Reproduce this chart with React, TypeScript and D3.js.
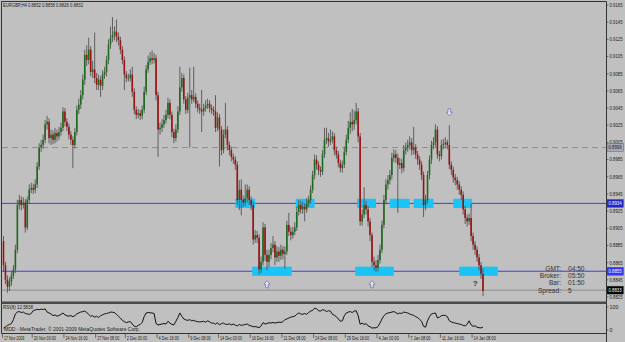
import React from 'react';
import * as d3 from 'd3';

// prices in pips (x 0.0001)
const opens = [8890,
8862,8845,8837,8843,8850,8857,8880,8932,8938,8932,
8935,8906,8938,8950,8952,8950,8956,8977,8999,9002,
9008,9026,9029,9010,9014,9008,9016,9012,9017,9022,
9041,9029,9023,9014,9008,9002,9017,9043,9049,9060,
9078,9107,9101,9113,9087,9090,9080,9072,9078,9071,
9084,9087,9101,9119,9127,9130,9134,9128,9124,9113,
9101,9084,9080,9080,9084,9064,9043,9037,9039,9036,
9043,9064,9090,9099,9103,9101,9103,9060,9020,9022,
9026,9031,9037,9051,9037,9017,9010,9020,9041,9069,
9080,9055,9043,9057,9060,9055,9058,9050,9045,9043,
9041,9045,9048,9050,9045,9043,9041,9022,9034,9020,
8996,9014,9020,9002,8996,8988,8985,8979,8938,8950,
8938,8935,8940,8950,8938,8932,8892,8897,8894,8857,
8866,8906,8874,8866,8874,8882,8886,8871,8878,8873,
8880,8875,8878,8909,8901,8897,8901,8906,8924,8932,
8927,8930,8927,8934,8938,8950,8967,8985,8979,8973,
8971,8991,9008,9010,9006,9008,9012,8996,8991,8981,
8975,8979,8994,9008,9022,9029,9026,9031,9041,9012,
8913,8921,8932,8927,8913,8897,8866,8862,8859,8868,
8880,8909,8938,8956,8961,8967,8987,8991,8987,8979,
8981,8975,8996,8999,9002,9005,8996,8999,8991,8985,
8979,8967,8932,8938,8967,8985,9002,9005,9020,8991,
8989,9002,9003,9005,9002,8979,8973,8964,8961,8956,
8950,8944,8927,8917,8913,8917,8896,8886,8880,8871,
8862,8852];

const closes = [
8862,8845,8837,8843,8850,8857,8880,8932,8938,8932,
8935,8906,8938,8950,8952,8950,8956,8977,8999,9002,
9008,9026,9029,9010,9014,9008,9016,9012,9017,9022,
9041,9029,9023,9014,9008,9002,9017,9043,9049,9060,
9078,9107,9101,9113,9087,9090,9080,9072,9078,9071,
9084,9087,9101,9119,9127,9130,9134,9128,9124,9113,
9101,9084,9080,9080,9084,9064,9043,9037,9039,9036,
9043,9064,9090,9099,9103,9101,9103,9060,9020,9022,
9026,9031,9037,9051,9037,9017,9010,9020,9041,9069,
9080,9055,9043,9057,9060,9055,9058,9050,9045,9043,
9041,9045,9048,9050,9045,9043,9041,9022,9034,9020,
8996,9014,9020,9002,8996,8988,8985,8979,8938,8950,
8938,8935,8940,8950,8938,8932,8892,8897,8894,8857,
8866,8906,8874,8866,8874,8882,8886,8871,8878,8873,
8880,8875,8878,8909,8901,8897,8901,8906,8924,8932,
8927,8930,8927,8934,8938,8950,8967,8985,8979,8973,
8971,8991,9008,9010,9006,9008,9012,8996,8991,8981,
8975,8979,8994,9008,9022,9029,9026,9031,9041,9012,
8913,8921,8932,8927,8913,8897,8866,8862,8859,8868,
8880,8909,8938,8956,8961,8967,8987,8991,8987,8979,
8981,8975,8996,8999,9002,9005,8996,8999,8991,8985,
8979,8967,8932,8938,8967,8985,9002,9005,9020,8991,
8989,9002,9003,9005,9002,8979,8973,8964,8961,8956,
8950,8944,8927,8917,8913,8917,8896,8886,8880,8871,
8862,8852,8832];

const highs = [
8896,8866,8850,8848,8855,8862,8886,8938,8944,8942,
8941,8939,8942,8956,8958,8957,8962,8982,9004,9008,
9014,9031,9036,9033,9020,9019,9022,9020,9023,9028,
9046,9045,9033,9027,9018,9012,9022,9048,9056,9066,
9084,9113,9118,9127,9117,9100,9133,9086,9084,9082,
9089,9093,9106,9125,9140,9151,9140,9148,9133,9128,
9117,9105,9088,9085,9090,9093,9068,9047,9044,9043,
9048,9070,9095,9106,9110,9112,9109,9107,9064,9028,
9032,9037,9043,9057,9055,9041,9021,9026,9047,9093,
9086,9084,9059,9063,9092,9066,9093,9062,9054,9050,
9066,9050,9054,9056,9054,9049,9047,9060,9040,9038,
9024,9020,9051,9024,9006,9000,8992,8989,8983,8961,
8962,8943,8956,8956,8954,8942,8936,8903,8902,8898,
8872,8912,8910,8880,8880,8888,8896,8890,8884,8883,
8886,8884,8884,8914,8923,8906,8907,8912,8930,8938,
8937,8936,8934,8940,8943,8955,8972,8991,8990,8983,
8977,8996,9022,9022,9016,9020,9018,9016,9000,8995,
8985,8984,9000,9014,9030,9040,9044,9042,9051,9045,
9016,8927,8953,8937,8931,8917,8900,8872,8868,8874,
8886,8914,8944,8962,8967,8973,8993,8997,8996,8992,
8987,8986,9002,9005,9008,9012,9010,9023,9003,8995,
8989,8983,8971,8944,8972,8990,9007,9011,9026,9024,
8995,9008,9009,9011,9008,9025,8983,8977,8968,8965,
8960,8954,8948,8931,8921,8922,8934,8900,8890,8884,
8875,8866,8858];

const lows = [
8855,8840,8830,8832,8838,8846,8853,8876,8927,8926,
8928,8900,8903,8934,8946,8945,8946,8952,8973,8994,
8998,9004,9020,9004,9002,9003,9004,9006,9008,9013,
9018,9024,9018,9009,9002,8975,8998,9013,9038,9044,
9055,9072,9094,9096,9082,9080,9074,9066,9066,9058,
9066,9079,9082,9096,9114,9122,9124,9122,9118,9108,
9096,9066,9075,9076,9076,9058,9038,9032,9033,9031,
9032,9039,9060,9086,9095,9096,9097,9054,8988,9014,
9017,9022,9027,9033,9032,9011,9004,9006,9016,9037,
9064,9050,9038,9039,8999,9050,9052,9045,9040,9038,
9017,9036,9041,9044,9040,9038,9036,9017,9018,8977,
8990,8992,9010,8996,8990,8983,8980,8973,8932,8926,
8920,8930,8931,8935,8932,8926,8886,8888,8888,8851,
8853,8862,8867,8856,8860,8869,8877,8862,8866,8866,
8868,8869,8858,8874,8896,8891,8893,8897,8902,8920,
8922,8922,8913,8923,8930,8934,8946,8962,8973,8967,
8965,8967,8987,9003,9000,9002,9004,8990,8986,8976,
8970,8970,8975,8990,9004,9015,9018,9020,9026,9005,
8908,8908,8917,8921,8907,8890,8860,8856,8854,8855,
8864,8876,8905,8933,8950,8956,8962,8982,8981,8923,
8974,8969,8971,8991,8994,8997,8990,8991,8986,8979,
8973,8961,8918,8926,8934,8962,8980,8997,9000,8986,
8983,8985,8997,8999,8997,8974,8967,8958,8955,8950,
8944,8938,8921,8910,8907,8909,8890,8880,8874,8866,
8856,8846,8826];

const rsiValues = [
8,13,20,24,28,45,70,78,80,76,
78,72,70,68,72,84,87,90,88,91,
89,92,78,74,70,62,66,60,63,68,
74,66,62,60,63,58,62,70,74,78,
80,82,76,68,60,62,56,60,54,62,
66,70,72,74,78,77,76,68,60,52,
42,36,32,35,37,26,16,14,20,24,
33,58,74,76,75,74,72,28,22,24,
26,28,26,38,30,24,22,38,54,74,
60,48,44,42,45,40,42,38,36,35,
36,38,34,40,36,30,30,25,32,22,
28,30,25,24,27,22,26,21,18,24,
20,22,24,26,20,18,14,15,13,10,
18,32,26,28,32,30,33,30,32,34,
33,36,45,48,52,56,58,60,68,74,
70,68,72,68,76,82,85,95,92,84,
82,88,86,80,84,82,68,64,58,48,
38,40,62,74,78,80,76,82,84,62,
25,30,24,28,18,14,8,10,9,15,
30,48,62,70,74,75,78,80,76,70,
74,72,78,76,74,70,66,64,58,54,
46,38,16,12,40,58,70,72,74,52,
56,62,64,63,58,40,35,32,30,28,
26,24,20,18,25,40,22,16,18,12,
10,9,12.6];

const priceTickLabels = ["0.9165","0.9145","0.9125","0.9105","0.9085","0.9065","0.9045","0.9025","0.9005","0.8985","0.8965","0.8945","0.8925","0.8905","0.8885","0.8865","0.8845","0.8825"];
const dateLabels = ["17 Nov 2009","20 Nov 00:00","24 Nov 16:00","27 Nov 08:00","2 Dec 00:00","4 Dec 16:00","9 Dec 08:00","14 Dec 00:00","16 Dec 16:00","21 Dec 08:00","24 Dec 08:00","29 Dec 16:00","4 Jan 00:00","7 Jan 08:00","11 Jan 16:00","14 Jan 08:00"];
const dateBars = [0,15,31,47,62,78,94,109,125,141,157,173,189,205,221,237];

const upperLevel = 0.8934;
const lowerLevel = 0.8855;
const dashedLevel = 0.8999;
const bidLevel = 0.8833;

const upperBoxes = [[117,127],[147.5,157],[178.5,188],[195,205],[207,217],[227,236.5]];
const lowerBoxes = [[125.5,145.5],[177.5,197],[230,249.5]];
const upArrowBars = [133, 186];
const downArrowBars = [225];
const questionBar = 238;

const headerText = "EURGBP,H4  0.8852 0.8858 0.8826 0.8832";
const rsiLabel = "RSI(8) 12.5838";
const copyright = "MDD - MetaTrader, \u00a9 2001-2009 MetaQuotes Software Corp.";
const infoLabels = ["GMT:", "Broker:", "Bar:", "Spread:"];
const infoValues = ["04:50", "05:50", "01:50", "5"];

const FONT = "'Liberation Sans', Arial, sans-serif";

export default function App() {
  const W = 625, H = 342;
  const n = Math.min(opens.length, closes.length, highs.length, lows.length);
  const x = d3.scaleLinear().domain([0, 242]).range([3.5, 483]);
  const y = d3.scaleLinear().domain([0.8825, 0.9165]).range([297, 5]);
  const yr = d3.scaleLinear().domain([0, 100]).range([330, 307]);
  const p = (v: number) => v / 10000;

  const rsiLine = d3.line<number>().x((_, i) => x(i)).y(d => yr(d))(rsiValues) || '';

  const candles = [];
  for (let i = 0; i < n; i++) {
    const o = p(opens[i]), c = p(closes[i]);
    const h = Math.max(p(highs[i]), o, c), l = Math.min(p(lows[i]), o, c);
    const cx = x(i);
    const top = y(Math.max(o, c)), bot = y(Math.min(o, c));
    const bull = c >= o;
    candles.push(
      <g key={i}>
        <line x1={cx} x2={cx} y1={y(h)} y2={y(l)} stroke="#555" strokeWidth={0.9} />
        <rect x={cx - 0.8} y={top} width={1.6} height={Math.max(bot - top, 0.8)} fill={bull ? '#1d6b1d' : '#9c1212'} />
      </g>
    );
  }

  const boxH = 4.6;
  const arrowUp = "M0,-3.5 L3,0 L1.3,0 L1.3,3.5 L-1.3,3.5 L-1.3,0 L-3,0 Z";
  const arrowDown = "M0,3.5 L3,0 L1.3,0 L1.3,-3.5 L-1.3,-3.5 L-1.3,0 L-3,0 Z";

  const axisBox = (val: number, txt: string, fill: string, color: string) => (
    <g>
      <rect x={607} y={y(val) - 4} width={16.5} height={8} fill={fill} stroke="#555" strokeWidth={0.4} />
      <text x={608.5} y={y(val)} dy="0.35em" fontSize={5.3} fill={color} textLength={13} lengthAdjust="spacingAndGlyphs">{txt}</text>
    </g>
  );

  return (
    <svg width={W} height={H} style={{ position: 'fixed', left: 0, top: 0, fontFamily: FONT }}>
      <rect x={0} y={0} width={W} height={H} fill="#c0c0c0" />

      {/* levels */}
      <line x1={2} x2={606} y1={y(dashedLevel)} y2={y(dashedLevel)} stroke="#8e8e8e" strokeDasharray="6,4" />
      <line x1={2} x2={606} y1={y(upperLevel)} y2={y(upperLevel)} stroke="#3c3cf0" strokeWidth={1} />
      <line x1={2} x2={606} y1={y(lowerLevel)} y2={y(lowerLevel)} stroke="#3c3cf0" strokeWidth={1} />
      <line x1={2} x2={606} y1={y(bidLevel)} y2={y(bidLevel)} stroke="#808080" strokeWidth={0.8} />

      {upperBoxes.map(([a, b], k) => (
        <rect key={'u' + k} x={x(a)} y={y(upperLevel) - boxH} width={x(b) - x(a)} height={boxH * 2} fill="#1cc3f6" />
      ))}
      {lowerBoxes.map(([a, b], k) => (
        <rect key={'l' + k} x={x(a)} y={y(lowerLevel) - boxH} width={x(b) - x(a)} height={boxH * 2} fill="#1cc3f6" />
      ))}

      {candles}

      {upArrowBars.map((b, k) => (
        <path key={'ua' + k} d={arrowUp} transform={`translate(${x(b)},${y(lowerLevel) + 13})`} fill="#e6e6f4" stroke="#6a6aa8" strokeWidth={0.7} />
      ))}
      {downArrowBars.map((b, k) => (
        <path key={'da' + k} d={arrowDown} transform={`translate(${x(b)},${y(p(highs[b])) - 13})`} fill="#e6e6f4" stroke="#6a6aa8" strokeWidth={0.7} />
      ))}
      <text x={x(questionBar)} y={y(lowerLevel) + 15} textAnchor="middle" fontSize={8} fontWeight="bold" fill="#333">?</text>

      {/* info block */}
      {infoLabels.map((t, k) => (
        <g key={'i' + k}>
          <text x={561} y={270.5 + k * 7.4} textAnchor="end" fontSize={6.6} fill="#333">{t}</text>
          <text x={568} y={270.5 + k * 7.4} fontSize={6.6} fill="#333">{infoValues[k]}</text>
        </g>
      ))}

      {/* header */}
      <text x={3} y={7} fontSize={5} fill="#222" textLength={80} lengthAdjust="spacingAndGlyphs">{headerText}</text>

      {/* frame */}
      <line x1={1.5} x2={606.5} y1={1.5} y2={1.5} stroke="#333" />
      <line x1={1.5} x2={1.5} y1={1.5} y2={333.5} stroke="#333" />
      <line x1={606.5} x2={606.5} y1={1.5} y2={342} stroke="#333" />
      <rect x={1.5} y={301.5} width={605} height={2.5} fill="#4a4a4a" />
      <line x1={1.5} x2={606.5} y1={333.5} y2={333.5} stroke="#333" />

      {/* price axis */}
      {priceTickLabels.map((t, k) => {
        const v = +t;
        return (
          <g key={'pt' + k}>
            <line x1={606.5} x2={608.5} y1={y(v)} y2={y(v)} stroke="#333" strokeWidth={0.6} />
            <text x={609.5} y={y(v)} dy="0.35em" fontSize={5.3} fill="#222" textLength={13} lengthAdjust="spacingAndGlyphs">{t}</text>
          </g>
        );
      })}
      {axisBox(dashedLevel, dashedLevel.toFixed(4), '#a3a8ba', '#222')}
      {axisBox(upperLevel, upperLevel.toFixed(4), '#2424c8', '#fff')}
      {axisBox(lowerLevel, lowerLevel.toFixed(4), '#3434f4', '#fff')}
      {axisBox(bidLevel, bidLevel.toFixed(4), '#000', '#fff')}

      {/* RSI window */}
      <path d={rsiLine} fill="none" stroke="#111" strokeWidth={1} />
      <text x={3} y={308.5} fontSize={5} fill="#222" textLength={30} lengthAdjust="spacingAndGlyphs">{rsiLabel}</text>
      <text x={4} y={331} fontSize={5} fill="#222" textLength={136} lengthAdjust="spacingAndGlyphs">{copyright}</text>
      <line x1={606.5} x2={608.5} y1={yr(100)} y2={yr(100)} stroke="#333" strokeWidth={0.6} />
      <text x={609.5} y={yr(100)} dy="0.35em" fontSize={5.3} fill="#222">100</text>
      <line x1={606.5} x2={608.5} y1={yr(0)} y2={yr(0)} stroke="#333" strokeWidth={0.6} />
      <text x={609.5} y={yr(0)} dy="0.35em" fontSize={5.3} fill="#222">0</text>

      {/* date axis */}
      {dateLabels.map((t, k) => (
        <g key={'d' + k}>
          <line x1={x(dateBars[k]) - 1} x2={x(dateBars[k]) - 1} y1={333.5} y2={338} stroke="#333" strokeWidth={0.6} />
          <text x={x(dateBars[k]) + 0.5} y={340} fontSize={5.3} fill="#222" textLength={t.length * 1.85} lengthAdjust="spacingAndGlyphs">{t}</text>
        </g>
      ))}
    </svg>
  );
}
